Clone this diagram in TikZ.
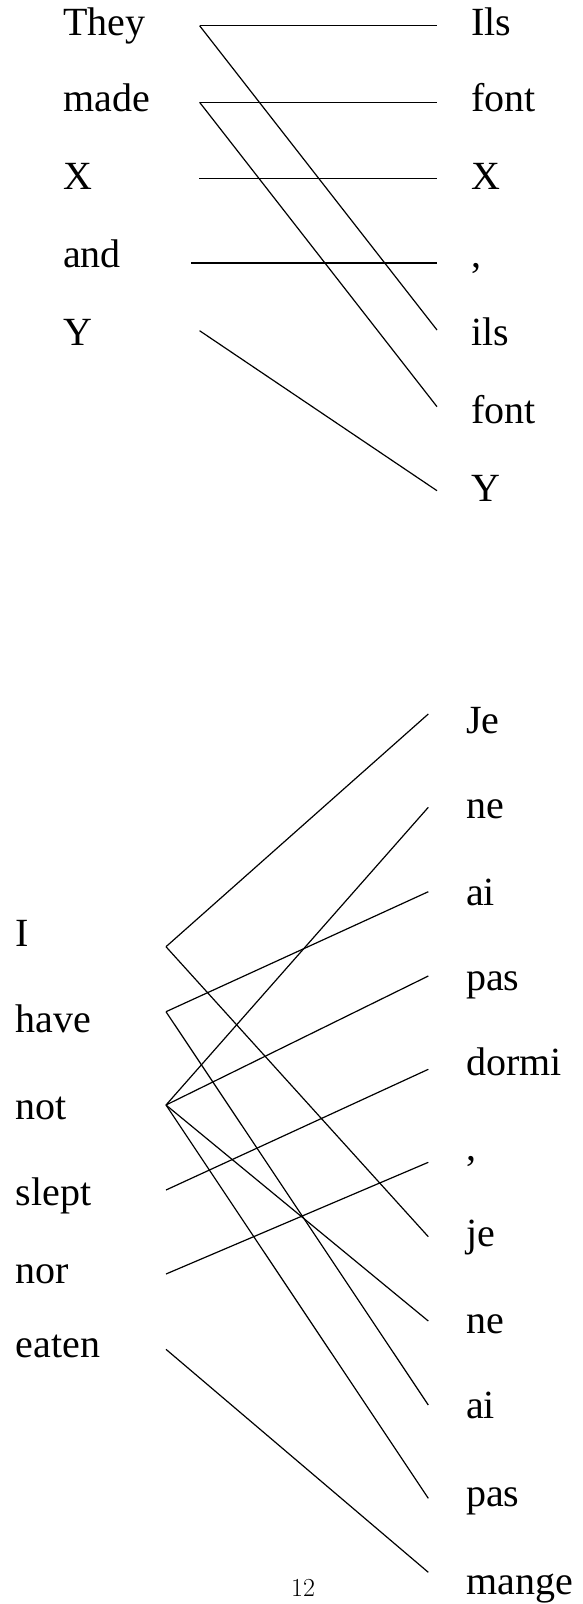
\documentclass[tikz,border=0pt]{standalone}
\usepackage{fontspec}
\newfontfamily\wordfont{Liberation Serif}
\begin{document}
\begin{tikzpicture}[x=1pt,y=-1pt,
  word/.style={anchor=base west, inner sep=0pt, font=\wordfont\fontsize{40}{48}\selectfont},
  link/.style={line width=1.2pt, line cap=butt}]
\useasboundingbox (0,0) rectangle (582,1604);
% ---------- top example ----------
\node[word] (they)  at (63,35)    {They};
\node[word] (made)  at (63,111.7) {made};
\node[word] (xl)    at (63,189.3) {X};
\node[word] (andw)  at (63,267.7) {and};
\node[word] (yl)    at (63,345)   {Y};
\node[word] (ils1)  at (471,35)    {Ils};
\node[word] (font1) at (471,111.7) {font};
\node[word] (xr)    at (471,189.3) {X};
\node[word] (comma1) at (471,267.7) {,};
\node[word] (ils2)  at (471,345)   {ils};
\node[word] (font2) at (471,423.3) {font};
\node[word] (yr)    at (471,501.7) {Y};
\coordinate (they-p)  at (199.6,25.7);
\coordinate (made-p)  at (199.6,102.3);
\coordinate (xl-p)    at (199.0,178.3);
\coordinate (and-p)   at (191.0,263);
\coordinate (yl-p)    at (199.6,330.7);
\coordinate (ils1-p)  at (437,25.7);
\coordinate (font1-p) at (437,102.3);
\coordinate (xr-p)    at (437,178.3);
\coordinate (comma1-p) at (437,263);
\coordinate (ils2-p)  at (437,330);
\coordinate (font2-p) at (437,406.7);
\coordinate (yr-p)    at (437,490.7);
\draw[link] (they-p) -- (ils1-p);
\draw[link] (they-p) -- (ils2-p);
\draw[link] (made-p) -- (font1-p);
\draw[link] (made-p) -- (font2-p);
\draw[link] (xl-p) -- (xr-p);
\draw[link] (and-p) -- (comma1-p);
\draw[link] (yl-p) -- (yr-p);
% ---------- bottom example ----------
\node[word] (iw)    at (15.5,946.7)  {I};
\node[word] (have)  at (15.5,1032.7) {have};
\node[word] (notw)  at (15.5,1119.3) {not};
\node[word] (slept) at (15.5,1205)   {slept};
\node[word] (nor)   at (15.5,1283.3) {nor};
\node[word] (eaten) at (15.5,1357)   {eaten};
\node[word] (je1)   at (466,733)    {Je};
\node[word] (ne1)   at (466,818.3)  {ne};
\node[word] (ai1)   at (466,905)    {ai};
\node[word] (pas1)  at (466,990)    {pas};
\node[word] (dormi) at (466,1075.7) {dormi};
\node[word] (comma2) at (466,1160)  {,};
\node[word] (je2)   at (466,1246.7) {je};
\node[word] (ne2)   at (466,1333.3) {ne};
\node[word] (ai2)   at (466,1418.3) {ai};
\node[word] (pas2)  at (466,1506.7) {pas};
\node[word] (mange) at (466,1594)   {mange};
\coordinate (i-p)     at (166,946.7);
\coordinate (have-p)  at (166,1011.7);
\coordinate (not-p)   at (166,1105);
\coordinate (slept-p) at (166,1190);
\coordinate (nor-p)   at (166,1274);
\coordinate (eaten-p) at (166,1349.3);
\coordinate (je1-p)   at (428.3,714);
\coordinate (ne1-p)   at (428.3,807.3);
\coordinate (ai1-p)   at (428.3,891.7);
\coordinate (pas1-p)  at (428.3,976);
\coordinate (dormi-p) at (428.3,1069.3);
\coordinate (comma2-p) at (428.3,1162.3);
\coordinate (je2-p)   at (428.3,1236.7);
\coordinate (ne2-p)   at (428.3,1321);
\coordinate (ai2-p)   at (428.3,1405);
\coordinate (pas2-p)  at (428.3,1498.3);
\coordinate (mange-p) at (428.3,1572.3);
\draw[link] (i-p) -- (je1-p);
\draw[link] (i-p) -- (je2-p);
\draw[link] (have-p) -- (ai1-p);
\draw[link] (have-p) -- (ai2-p);
\draw[link] (not-p) -- (ne1-p);
\draw[link] (not-p) -- (pas1-p);
\draw[link] (not-p) -- (ne2-p);
\draw[link] (not-p) -- (pas2-p);
\draw[link] (slept-p) -- (dormi-p);
\draw[link] (nor-p) -- (comma2-p);
\draw[link] (eaten-p) -- (mange-p);
% page number
\node[anchor=base, inner sep=0pt, font=\fontsize{26}{30}\selectfont] (pagenum) at (303,1596.7) {12};
\end{tikzpicture}
\end{document}
